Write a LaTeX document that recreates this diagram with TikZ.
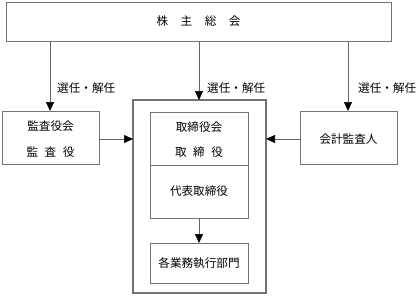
\documentclass[tikz,border=0pt]{standalone}
\usepackage{fontspec}
\setmainfont{Noto Sans CJK JP}
\usetikzlibrary{arrows.meta}
\begin{document}
\begin{tikzpicture}[x=1pt,y=-1pt,
  box/.style={draw=black!55,line width=0.9pt},
  conn/.style={draw=black!60,line width=0.7pt},
  arr/.style={conn,-{Triangle[length=9pt,width=8pt,black]}},
  lbl/.style={font=\fontsize{11.6}{13}\selectfont,anchor=west,inner sep=1pt},
  txt/.style={font=\fontsize{11.6}{13}\selectfont}]
\useasboundingbox (0,0) rectangle (419,295);
% top
\draw[box] (6,2) rectangle (391,41);
\node[txt] (top) at (198.5,21) {株\hspace{12.5pt}主\hspace{12.5pt}総\hspace{12.5pt}会};
\coordinate (tl) at (50,41);
\coordinate (tc) at (199,41);
\coordinate (tr) at (348,41);
% left box
\draw[box] (2,111) rectangle (99,164);
\node[txt] (l1) at (50.5,126) {監査役会};
\node[txt] (l2) at (50.5,152) {監\hspace{6.5pt}査\hspace{6.5pt}役};
\coordinate (lt) at (50,111);
\coordinate (lr) at (99,139);
% right box
\draw[box] (300,111) rectangle (397,164);
\node[txt] (r1) at (348.5,139) {会計監査人};
\coordinate (rt) at (348,111);
\coordinate (rl) at (300,139);
% big box
\draw[box,line width=1.2pt] (133,100) rectangle (266,293);
\coordinate (bt) at (199,100);
\coordinate (bl) at (133,139);
\coordinate (br) at (266,139);
\draw[box] (150,112) rectangle (248,218);
\draw[box] (150,165) -- (248,165);
\node[txt] (b1) at (199,127) {取締役会};
\node[txt] (b2) at (199,152) {取\hspace{6.5pt}締\hspace{6.5pt}役};
\node[txt] (b3) at (199,191.5) {代表取締役};
\coordinate (b3b) at (199,218);
\draw[box] (150,243) rectangle (248,283);
\node[txt] (b4) at (199,263) {各業務執行部門};
\coordinate (b4t) at (199,243);
% connectors
\draw[arr] (tl) -- (lt);
\draw[arr] (tc) -- (bt);
\draw[arr] (tr) -- (rt);
\draw[arr] (lr) -- (bl);
\draw[arr] (rl) -- (br);
\draw[arr] (b3b) -- (b4t);
% labels
\node[lbl] (s1) at (56,88) {選任・解任};
\node[lbl] (s2) at (206,88) {選任・解任};
\node[lbl] (s3) at (357,88) {選任・解任};
\end{tikzpicture}
\end{document}
